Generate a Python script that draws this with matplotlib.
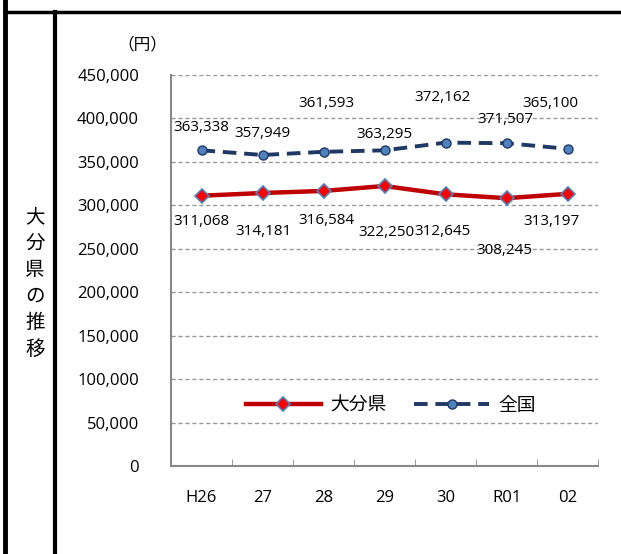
import matplotlib
matplotlib.use("Agg")
import matplotlib.pyplot as plt
from matplotlib.lines import Line2D
from matplotlib.ticker import FuncFormatter, MultipleLocator

plt.rcParams['font.family'] = ['Open Sans', 'Noto Sans CJK JP', 'DejaVu Sans']
JP = ['Noto Sans CJK JP', 'DejaVu Sans']

# data
years = ["H26", "27", "28", "29", "30", "R01", "02"]
oita = [311068, 314181, 316584, 322250, 312645, 308245, 313197]
zenkoku = [363338, 357949, 361593, 363295, 372162, 371507, 365100]

# label offsets in pixels (dx, dy)
zenkoku_off = [(0, 23), (0, 21), (3, 48), (0, 16), (-3, 45), (-1, 24), (-17, 45)]
oita_off = [(0, -26), (1, -38), (3, -30), (2, -46), (-3, -37), (-2, -52), (-16, -28)]

fig = plt.figure(figsize=(6.21, 5.54), dpi=100)
ax = fig.add_axes([171 / 621, 1 - 466 / 554, 427 / 621, 391 / 554])

x = list(range(len(years)))
ax.plot(x, oita, color='#C00000', lw=3.2, marker='D', ms=7,
        mfc='#FF0000', mec='#4F81BD', mew=1.2, label='大分県', zorder=4)
ax.plot(x, zenkoku, color='#1F3864', lw=2.8, ls=(0, (3.5, 2)), marker='o', ms=6.5,
        mfc='#4F81BD', mec='#1F3864', mew=1, label='全国', zorder=4)

for xi, v, (dx, dy) in zip(x, zenkoku, zenkoku_off):
    ax.annotate(f"{v:,}", (xi, v), xytext=(dx, dy), textcoords='offset pixels',
                ha='center', va='center', fontsize=11)
for xi, v, (dx, dy) in zip(x, oita, oita_off):
    ax.annotate(f"{v:,}", (xi, v), xytext=(dx, dy), textcoords='offset pixels',
                ha='center', va='center', fontsize=11)

ax.set_xlim(-0.5, len(years) - 0.5)
ax.set_ylim(0, 450000)
ax.yaxis.set_major_locator(MultipleLocator(50000))
ax.yaxis.set_major_formatter(FuncFormatter(lambda v, p: f"{int(v):,}"))
ax.grid(axis='y', color='#999999', ls=(0, (3, 2)), lw=1)
ax.set_axisbelow(True)

ax.set_xticks(x)
ax.set_xticklabels(years)
ax.set_xticks([i - 0.5 for i in range(len(years) + 1)], minor=True)
ax.tick_params(axis='x', which='major', length=0, pad=17, labelsize=12)
ax.tick_params(axis='x', which='minor', direction='in', length=5, color='#888888')
ax.tick_params(axis='y', length=0, pad=23, labelsize=12)

for s in ['top', 'right']:
    ax.spines[s].set_visible(False)
for s in ['left', 'bottom']:
    ax.spines[s].set_color('#888888')
    ax.spines[s].set_linewidth(1.5)

leg = ax.legend(loc='center', bbox_to_anchor=(0.515, 0.155), ncol=2, frameon=False,
                prop={'family': JP, 'size': 13.5}, handlelength=4,
                columnspacing=1.5, handletextpad=0.5)

fig.text(142 / 621, 1 - 45 / 554, "（円）", ha='center', va='center', fontsize=12, family=JP)
fig.text(35 / 621, 1 - 283 / 554, "\n".join("大分県の推移"), ha='center', va='center',
         fontsize=14, linespacing=1.35, family=JP)

# table borders
fig.add_artist(Line2D([5 / 621, 5 / 621], [0, 1], color='black', lw=3.5, transform=fig.transFigure))
fig.add_artist(Line2D([5 / 621, 1], [1 - 11.5 / 554, 1 - 11.5 / 554], color='black', lw=2.5, transform=fig.transFigure))
fig.add_artist(Line2D([54.5 / 621, 54.5 / 621], [0, 1 - 11.5 / 554], color='black', lw=3, transform=fig.transFigure))

fig.savefig("out.png", dpi=100)
